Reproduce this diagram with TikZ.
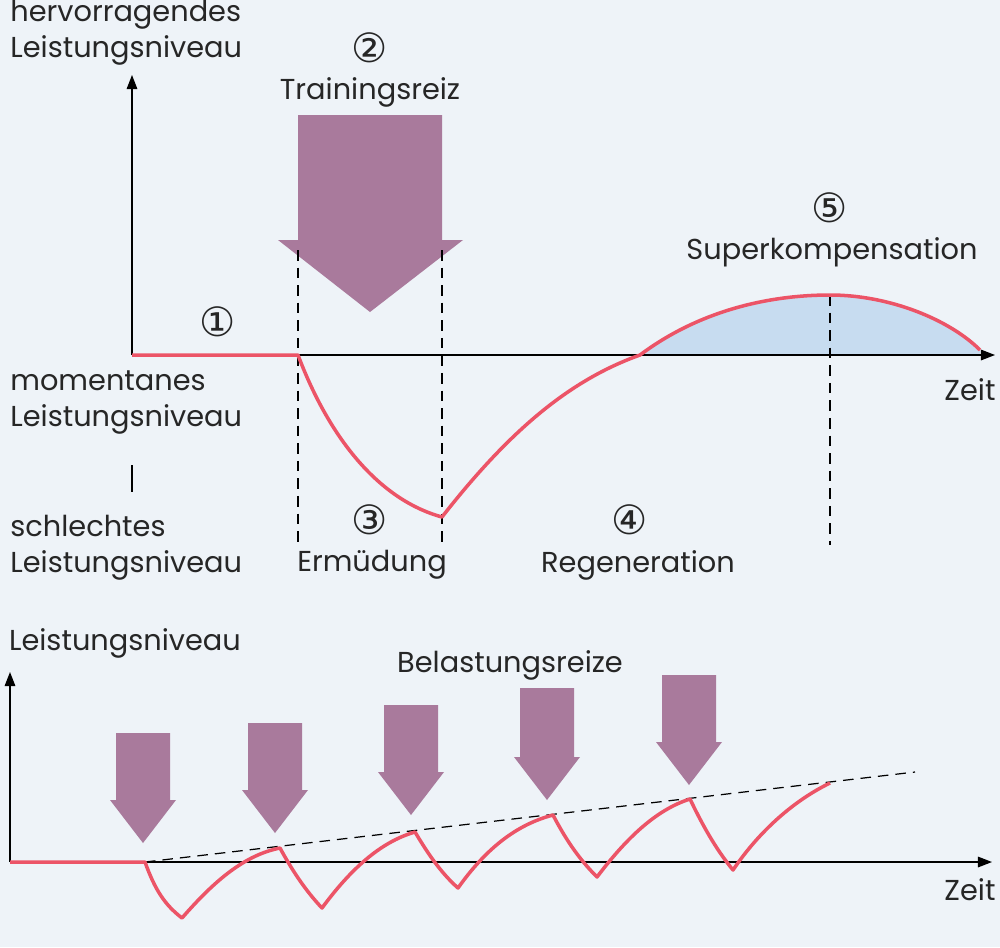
\documentclass[tikz,border=0pt]{standalone}
\usepackage{fontspec}
\setmainfont{Poppins}
\newfontfamily\symfont{DejaVu Sans}
\usetikzlibrary{arrows.meta}
\definecolor{bgblue}{HTML}{EEF3F8}
\definecolor{reizviolet}{HTML}{A97A9C}
\definecolor{kurvenrot}{HTML}{EC5467}
\definecolor{superblau}{HTML}{C7DCF0}
\tikzset{
  lbl/.style={font=\fontsize{16.4}{20.5}\selectfont, text=black!85, inner sep=0pt},
  numlbl/.style={font=\symfont\fontsize{23}{25}\selectfont, text=black!85, inner sep=0pt},
  achse/.style={line width=0.8pt, -{Triangle[length=8pt,width=6pt]}},
  kurve/.style={kurvenrot, line width=2pt, line join=round},
  hilfe/.style={dashed, line width=0.7pt, dash pattern=on 6pt off 4pt},
  reiz/.style={fill=reizviolet, draw=none}
}
\begin{document}
\begin{tikzpicture}[x=0.02cm,y=-0.02cm]
  \fill[bgblue] (0,0) rectangle (1000,947);
  \useasboundingbox (0,0) rectangle (1000,947);

  % oberes Diagramm
  \fill[superblau] (640,355) .. controls (700,310) and (770,295) .. (830,295)
    .. controls (890,295) and (950,320) .. (980,350) -- (980,355) -- cycle;
  \draw[achse] (132,355) -- (132,75);
  \draw[achse] (132,355) -- (995,355);
  \draw[line width=0.8pt] (132,465) -- (132,492);
  \fill[reiz] (298,115) -- (442,115) -- (442,240) -- (463,240) -- (370,312)
    -- (278,240) -- (298,240) -- cycle;
  \draw[hilfe] (298,250) -- (298,545);
  \draw[hilfe] (442,250) -- (442,545);
  \draw[hilfe] (830,295) -- (830,545);
  \draw[kurve] (132,355) -- (298,355) .. controls (330,440) and (380,500) .. (442,517)
    .. controls (510,430) and (570,380) .. (640,355)
    .. controls (700,310) and (770,295) .. (830,295)
    .. controls (890,295) and (950,320) .. (980,350);

  \node[lbl, anchor=north west, align=left] (hervor) at (10,0) {hervorragendes\\Leistungsniveau};
  \node[lbl, anchor=north west, align=left] (moment) at (10,370) {momentanes\\Leistungsniveau};
  \node[lbl, anchor=north west, align=left] (schlecht) at (10,515) {schlechtes\\Leistungsniveau};
  \node[numlbl] (n1) at (218,322) {①};
  \node[numlbl] (n2) at (370,48) {②};
  \node[lbl] (training) at (370,92) {Trainingsreiz};
  \node[numlbl] (n5) at (830,208) {⑤};
  \node[lbl] (superk) at (832,252) {Superkompensation};
  \node[lbl] (zeit1) at (970,390) {Zeit};
  \node[numlbl] (n3) at (370,520) {③};
  \node[lbl] (ermued) at (372,565) {Ermüdung};
  \node[numlbl] (n4) at (630,520) {④};
  \node[lbl] (regen) at (638,565) {Regeneration};

  % unteres Diagramm
  \draw[achse] (10,862) -- (10,672);
  \draw[achse] (10,862) -- (992,862);
  \foreach \xa/\yt/\tip/\yh in {143/733/843/800,275/723/833/790,411/705/815/772,547/688/800/757,689/675/785/742} {
    \fill[reiz] (\xa-27,\yt) -- (\xa+27,\yt) -- (\xa+27,\yh) -- (\xa+33,\yh) -- (\xa,\tip)
      -- (\xa-33,\yh) -- (\xa-27,\yh) -- cycle;
  }
  \draw[hilfe] (145,862) -- (915,772);
  \draw[kurve] (10,862) -- (145,862)
    .. controls (155,890) and (165,905) .. (182,918)
    .. controls (215,880) and (245,855) .. (280,848)
    .. controls (292,870) and (305,890) .. (322,908)
    .. controls (350,870) and (380,842) .. (415,832)
    .. controls (427,852) and (440,872) .. (458,888)
    .. controls (485,850) and (515,825) .. (553,815)
    .. controls (565,838) and (578,858) .. (597,877)
    .. controls (625,840) and (655,810) .. (690,799)
    .. controls (702,824) and (715,848) .. (733,870)
    .. controls (760,830) and (795,800) .. (830,783);

  \node[lbl] (niveau) at (125,643) {Leistungsniveau};
  \node[lbl] (belast) at (510,665) {Belastungsreize};
  \node[lbl] (zeit2) at (970,890) {Zeit};
\end{tikzpicture}
\end{document}
